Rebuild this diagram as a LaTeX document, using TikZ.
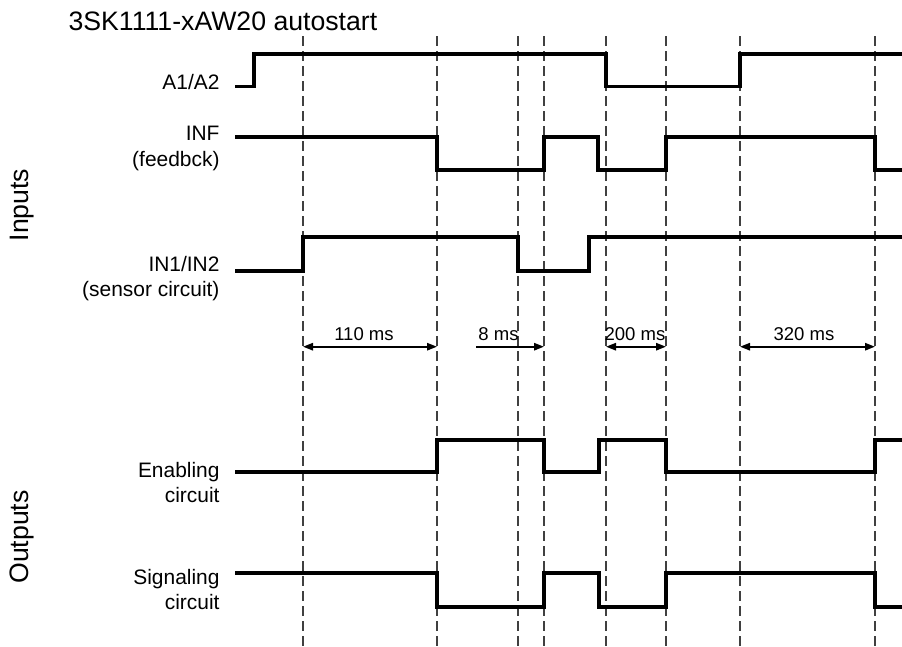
\documentclass[tikz,border=0pt]{standalone}
\usepackage{fontspec}
\setmainfont{Liberation Sans}
\usetikzlibrary{arrows.meta}

\tikzset{every picture/.style={line width=0.75pt}}
\tikzset{
  signal/.style={line width=2.6pt, line join=miter},
  guide/.style={line width=0.8pt, color=black!75, dash pattern={on 7.5pt off 3.75pt}},
  span/.style={line width=1.4pt, {Triangle[length=7.5pt,width=5.5pt]}-{Triangle[length=7.5pt,width=5.5pt]}},
  spanr/.style={line width=1.4pt, -{Triangle[length=7.5pt,width=5.5pt]}},
  rowlabel/.style={anchor=base east, inner sep=0.75pt, font=\fontsize{15.7}{18}\selectfont},
  timelabel/.style={anchor=base, inner sep=0.75pt, font=\fontsize{13.9}{16}\selectfont},
  grouplabel/.style={rotate=90, inner sep=0.75pt, font=\fontsize{20}{23}\selectfont}
}

\begin{document}
\begin{tikzpicture}[x=0.75pt,y=0.75pt,yscale=-1,xscale=1]
	\useasboundingbox (0,0) rectangle (902,646); %set diagram to 902 x 646
	
	%Dashed Lines 
	\draw  [guide]  (303,36) -- (303,646) ;
	\draw  [guide]  (437,36) -- (437,646) ;
	\draw  [guide]  (518,36) -- (518,646) ;
	\draw  [guide]  (544,36) -- (544,646) ;
	\draw  [guide]  (606,36) -- (606,646) ;
	\draw  [guide]  (666,36) -- (666,646) ;
	\draw  [guide]  (740,36) -- (740,646) ;
	\draw  [guide]  (875,36) -- (875,646) ;
	
	%Signal A1/A2 
	\draw  [signal]  (235,86.5) -- (254,86.5) -- (254,54) -- (606,54) -- (606,86.5) -- (740,86.5) -- (740,54) -- (902,54) ;
	%Signal INF 
	\draw  [signal]  (235,137) -- (437,137) -- (437,170) -- (544,170) -- (544,137) -- (598,137) -- (598,170) -- (666,170) -- (666,137) -- (875,137) -- (875,170) -- (902,170) ;
	%Signal IN1/IN2 
	\draw  [signal]  (235,271) -- (303,271) -- (303,237) -- (518,237) -- (518,271) -- (589,271) -- (589,237) -- (902,237) ;
	%Signal Enabling circuit 
	\draw  [signal]  (235,472) -- (437,472) -- (437,440) -- (544,440) -- (544,472) -- (599,472) -- (599,440) -- (666,440) -- (666,472) -- (875,472) -- (875,440) -- (902,440) ;
	%Signal Signaling circuit 
	\draw  [signal]  (235,573) -- (437,573) -- (437,607) -- (544,607) -- (544,573) -- (599,573) -- (599,607) -- (666,607) -- (666,573) -- (875,573) -- (875,607) -- (902,607) ;
	
	%Time spans 
	\coordinate (sA) at (303,346.7) ;
	\coordinate (sB) at (437,346.7) ;
	\coordinate (sC) at (476,346.7) ;
	\coordinate (sD) at (544,346.7) ;
	\coordinate (sE) at (606,346.7) ;
	\coordinate (sF) at (666,346.7) ;
	\coordinate (sG) at (740,346.7) ;
	\coordinate (sH) at (875,346.7) ;
	\draw  [span]  (sA) -- (sB) ;
	\draw  [spanr]  (sC) -- (sD) ;
	\draw  [span]  (sE) -- (sF) ;
	\draw  [span]  (sG) -- (sH) ;
	
	% Text Node
	\draw (67,30) node [anchor=base west][inner sep=0.75pt][font=\fontsize{20}{23}\selectfont] (title) {3SK1111-xAW20 autostart};
	% Text Node
	\draw (221,89) node [rowlabel] (lblA) {A1/A2};
	% Text Node
	\draw (221,140) node [rowlabel] (lblInf) {INF};
	\draw (221,166) node [rowlabel] (lblInfB) {(feedbck)};
	% Text Node
	\draw (221,271) node [rowlabel] (lblIn) {IN1/IN2};
	\draw (221,296) node [rowlabel] (lblInB) {(sensor circuit)};
	% Text Node
	\draw (221,477) node [rowlabel] (lblEn) {Enabling};
	\draw (221,502) node [rowlabel] (lblEnB) {circuit};
	% Text Node
	\draw (221,584) node [rowlabel] (lblSig) {Signaling};
	\draw (221,609) node [rowlabel] (lblSigB) {circuit};
	% Text Node
	\draw (22,205) node [grouplabel] (grpIn) {Inputs};
	\draw (22,537) node [grouplabel] (grpOut) {Outputs};
	% Text Node
	\draw (364,340) node [timelabel] (tA) {110 ms};
	\draw (498.5,340) node [timelabel] (tB) {8 ms};
	\draw (635,340) node [timelabel] (tC) {200 ms};
	\draw (804,340) node [timelabel] (tD) {320 ms};
	
\end{tikzpicture}
\end{document}
